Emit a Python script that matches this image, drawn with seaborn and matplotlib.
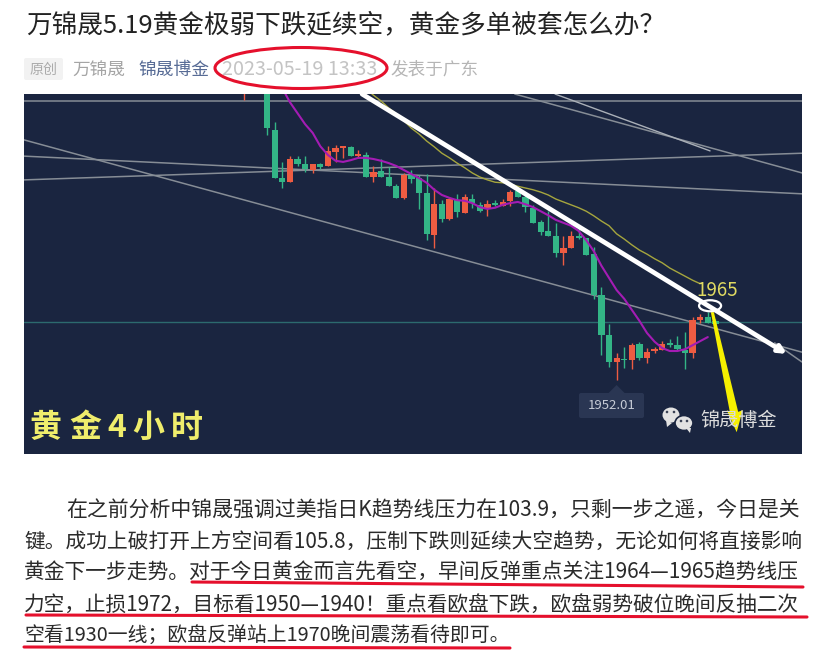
#!/usr/bin/env python3
# -*- coding: utf-8 -*-
import numpy as np
import pandas as pd
import seaborn as sns
import matplotlib.pyplot as plt
from matplotlib.patches import Ellipse, FancyBboxPatch, Polygon

sns.set_theme(style="white")
plt.rcParams['font.family'] = ['Noto Sans CJK SC', 'DejaVu Sans']

# 4 hour candles, first bar sits at index -3
opens = [2002.5, 2012.0, 2008.0, 2002.7, 1995.1, 1986.8, 1986.1, 1990.1, 1989.2, 1988.2, 1989.2, 1988.9, 1991.3,
         1992.0, 1992.2, 1990.6, 1990.8, 1987.0, 1988.0, 1987.0, 1985.4, 1983.4, 1987.3, 1986.8, 1984.2, 1977.0,
         1982.3, 1979.8, 1983.0, 1980.8, 1983.2, 1982.2, 1981.5, 1982.3, 1982.0, 1982.9, 1984.6, 1983.6, 1981.7,
         1979.2, 1977.7, 1976.8, 1973.9, 1974.8, 1976.8, 1976.5, 1973.7, 1966.7, 1959.8, 1955.1, 1955.6, 1955.4,
         1958.2, 1955.8, 1957.0, 1957.2, 1958.2, 1958.0, 1957.2, 1956.7, 1962.3, 1962.9, 1962.2]
highs = [2005.0, 2014.0, 2010.0, 2006.0, 1996.5, 1989.6, 1990.6, 1990.6, 1990.6, 1989.2, 1989.4, 1992.3, 1992.5,
         1992.3, 1992.3, 1991.7, 1991.3, 1988.9, 1990.1, 1988.7, 1985.8, 1987.7, 1988.2, 1987.3, 1987.5, 1985.1,
         1983.0, 1983.6, 1984.1, 1984.1, 1984.1, 1982.7, 1983.0, 1983.0, 1983.2, 1984.8, 1985.1, 1983.9, 1982.2,
         1979.6, 1981.1, 1979.1, 1976.8, 1977.7, 1978.4, 1976.5, 1974.9, 1968.0, 1961.7, 1956.7, 1957.7, 1958.4,
         1958.6, 1957.5, 1957.7, 1958.7, 1959.1, 1959.6, 1960.3, 1962.9, 1963.4, 1963.7, 1962.5]
lows = [2000.3, 2008.0, 2002.0, 1994.2, 1986.8, 1985.1, 1986.1, 1988.9, 1987.9, 1987.7, 1988.4, 1988.9, 1989.6,
        1990.3, 1990.6, 1990.3, 1987.0, 1986.1, 1987.0, 1985.4, 1983.4, 1983.2, 1986.0, 1981.5, 1976.1, 1974.8,
        1979.2, 1979.6, 1980.1, 1980.8, 1981.7, 1981.0, 1980.3, 1982.0, 1982.0, 1982.0, 1983.6, 1981.0, 1979.1,
        1977.0, 1976.8, 1973.2, 1971.8, 1974.8, 1976.3, 1973.6, 1966.0, 1956.3, 1954.2, 1952.01, 1954.1, 1953.9,
        1955.4, 1954.9, 1956.7, 1957.2, 1957.7, 1957.2, 1953.9, 1955.8, 1961.8, 1961.8, 1961.3]
closes = [2004.0, 2009.0, 2003.0, 1995.4, 1986.8, 1986.1, 1990.1, 1989.2, 1988.4, 1989.2, 1988.7, 1991.5, 1992.0,
          1992.2, 1990.6, 1990.8, 1987.0, 1987.9, 1987.0, 1985.4, 1983.4, 1987.3, 1986.7, 1984.2, 1977.2, 1982.3,
          1979.8, 1983.2, 1981.0, 1983.6, 1982.5, 1981.1, 1982.3, 1982.2, 1982.7, 1984.4, 1983.6, 1981.8, 1979.1,
          1977.5, 1976.8, 1973.9, 1974.8, 1976.8, 1976.5, 1973.6, 1966.7, 1959.8, 1955.1, 1955.8, 1955.4, 1958.0,
          1955.8, 1956.8, 1957.2, 1958.2, 1958.0, 1957.3, 1956.7, 1962.3, 1962.9, 1961.8, 1961.7]

# moving averages, read per bar
ma_fast_start = 2
ma_fast = [2002.3, 1999.9, 1998.0, 1996.1, 1994.6, 1992.3, 1990.8, 1989.8, 1989.6, 1989.9, 1990.3, 1990.3, 1990.1,
           1989.8, 1989.4, 1988.9, 1988.2, 1987.5, 1986.8, 1986.0, 1984.8, 1983.9, 1983.4, 1983.0, 1982.9, 1982.5,
           1981.8, 1981.5, 1981.7, 1982.2, 1982.5, 1982.7, 1982.3, 1981.8, 1981.1, 1980.4, 1979.6, 1979.1, 1978.6,
           1977.7, 1976.1, 1974.2, 1971.7, 1969.6, 1967.5, 1966.0, 1964.1, 1962.2, 1960.1, 1958.6, 1957.5, 1957.0,
           1957.0, 1957.3, 1958.0, 1958.7, 1959.4]
ma_slow_start = 13
ma_slow = [2002.2, 2001.1, 2000.1, 1998.9, 1997.9, 1996.7, 1995.4, 1994.4, 1993.2, 1992.2, 1991.1, 1990.3, 1989.4,
           1988.6, 1987.7, 1987.0, 1986.5, 1986.1, 1986.0, 1985.8, 1985.4, 1985.1, 1984.8, 1984.4, 1983.9, 1983.2,
           1982.7, 1982.2, 1981.7, 1981.1, 1980.3, 1979.4, 1978.6, 1977.2, 1976.3, 1975.3, 1974.4, 1973.7, 1972.9,
           1972.2, 1971.3, 1970.6, 1969.9, 1969.2, 1968.6]

# grey trend lines: (bar, price) at both ends
grey_lines = [((-32.0, 2000.1), (70.4, 2000.1)),
              ((-32.0, 1993.4), (70.4, 1956.8)),
              ((-32.0, 1990.6), (70.4, 1984.1)),
              ((-32.0, 1986.5), (70.4, 1991.1)),
              ((32.6, 2001.3), (70.4, 1987.7)),
              ((66.8, 1958.4), (70.4, 1955.1))]
thin_line = ((37.9, 2001.3), (58.3, 1991.5))
last_price = 1962.0
white_arrow = ((12.5, 2001.3), (68.4, 1956.5))
yellow_bars = [58.4, 58.8, 62.0, 62.6, 61.8, 60.5, 60.9]
yellow_prices = [1963.7, 1963.7, 1946.5, 1946.8, 1943.0, 1946.8, 1946.5]

title = "万锦晟5.19黄金极弱下跌延续空，黄金多单被套怎么办？"
body_lines = ["在之前分析中锦晟强调过美指日K趋势线压力在103.9，只剩一步之遥，今日是关",
              "键。成功上破打开上方空间看105.8，压制下跌则延续大空趋势，无论如何将直接影响",
              "黄金下一步走势。对于今日黄金而言先看空，早间反弹重点关注1964—1965趋势线压",
              "力空，止损1972，目标看1950—1940！重点看欧盘下跌，欧盘弱势破位晚间反抽二次",
              "空看1930一线；欧盘反弹站上1970晚间震荡看待即可。"]
body_left = [66, 24, 24, 24, 24]
body_right = [802, 802, 802, 802, 510]
body_y = [511, 542, 573, 605, 636]

BG = "#1a2540"
UP = "#ee5c42"
DOWN = "#33b586"
RED_INK = "#e5102c"

fig = plt.figure(figsize=(8.30, 6.54), dpi=100, facecolor="white")
ax = fig.add_axes([24 / 830, 1 - 454 / 654, 778 / 830, 360 / 654])
ax.set_facecolor(BG)
ax.set_xlim(-32.0, 70.4)
ax.set_ylim(1939.24, 2001.31)
ax.set_xticks([])
ax.set_yticks([])
sns.despine(ax=ax, left=True, bottom=True)

candles = pd.DataFrame({"open": opens, "high": highs, "low": lows, "close": closes})
candles["bar"] = np.arange(len(candles)) - 3
candles["color"] = np.where(candles.close > candles.open, UP, DOWN)

# trend lines go under the candles
ax.axhline(last_price, color="#2c6a6e", lw=1.0, zorder=1)
for (x0, y0), (x1, y1) in grey_lines:
    ax.plot([x0, x1], [y0, y1], color="#868d96", lw=1.1, zorder=1)
ax.plot([thin_line[0][0], thin_line[1][0]], [thin_line[0][1], thin_line[1][1]], color="#aab0b8", lw=1.0, zorder=1)

ax.vlines(candles.bar, candles.low, candles.high, colors=candles.color, lw=1.0, zorder=2)
bottoms = candles[["open", "close"]].min(axis=1)
heights = (candles.open - candles.close).abs().clip(lower=0.3)
ax.bar(candles.bar, heights, bottom=bottoms, width=0.82, color=candles.color, linewidth=0, zorder=2)

fast = pd.DataFrame({"bar": np.arange(len(ma_fast)) + ma_fast_start, "price": ma_fast})
slow = pd.DataFrame({"bar": np.arange(len(ma_slow)) + ma_slow_start, "price": ma_slow})
sns.lineplot(data=slow, x="bar", y="price", ax=ax, color="#a6a63e", lw=1.0, zorder=3, legend=False)
sns.lineplot(data=fast, x="bar", y="price", ax=ax, color="#a41cb4", lw=1.5, zorder=3, legend=False)
ax.set_xlabel("")
ax.set_ylabel("")

ax.add_patch(Polygon(np.column_stack([yellow_bars, yellow_prices]), closed=True, facecolor="#f6f000",
                     edgecolor="none", zorder=4))
ax.annotate("", xy=white_arrow[1], xytext=white_arrow[0], zorder=5, annotation_clip=False,
            arrowprops=dict(arrowstyle="-|>", color="white", lw=3.4, mutation_scale=11, shrinkA=0, shrinkB=0))
ax.add_patch(Ellipse((58.3, 1964.8), 2.9, 1.9, facecolor="none", edgecolor="white", lw=1.6, zorder=6))
ax.text(59.2, 1967.5, "1965", color="#e0da62", fontsize=13.5, ha="center", va="center", zorder=6)

# page layer in screen pixels
page = fig.add_axes([0, 0, 1, 1], zorder=5)
page.set_xlim(0, 830)
page.set_ylim(654, 0)
page.axis("off")
renderer = fig.canvas.get_renderer()


def fit_text(x0, x1, y, text, size, **kw):
    t = page.text(x0, y, text, fontsize=size, ha="left", va="center", **kw)
    w = t.get_window_extent(renderer).width
    t.set_fontsize(size * (x1 - x0) / w)
    return t


fit_text(26, 665, 25.5, title, 18, color="#222222")
page.add_patch(FancyBboxPatch((24, 58), 39, 22, boxstyle="round,pad=0,rounding_size=2", facecolor="#f2f2f2",
                              edgecolor="none"))
fit_text(30, 58, 69.5, "原创", 10, color="#ababab")
fit_text(72, 125, 69.5, "万锦晟", 12.5, color="#a5a5a5")
fit_text(138, 209, 69.5, "锦晟博金", 12.5, color="#576b95")
fit_text(222, 377, 69.5, "2023-05-19 13:33", 12.5, color="#c4c4c4")
fit_text(390, 478, 69.5, "发表于广东", 12.5, color="#b5b5b5")
page.add_patch(Ellipse((301, 68), 172, 41, facecolor="none", edgecolor=RED_INK, lw=2.2))

for line, x0, x1, y in zip(body_lines, body_left, body_right, body_y):
    fit_text(x0, x1, y, line, 15, color="#2a2a2a")
page.plot([192, 803], [582, 587], color=RED_INK, lw=2.2, solid_capstyle="round")
page.plot([26, 807], [615, 617], color=RED_INK, lw=2.2, solid_capstyle="round")
page.plot([24, 510], [647, 648], color=RED_INK, lw=2.2, solid_capstyle="round")

# caption, one glyph at a time because of the wide spacing
for ch, cx in zip("黄金4小时", [45, 85, 117, 148, 187]):
    page.text(cx, 428, ch, color="#efed6c", fontsize=23, fontweight="bold", ha="center", va="center")

# tooltip under the lowest bar
tip_x = 267 + 7.6 * candles.bar[candles.low.idxmin()]
page.add_patch(FancyBboxPatch((579, 393), 65, 25, boxstyle="round,pad=0,rounding_size=2", facecolor="#2a3653",
                              edgecolor="none"))
page.add_patch(Polygon([(tip_x - 8, 393), (tip_x, 385), (tip_x + 8, 393)], closed=True, facecolor="#2a3653",
                       edgecolor="none"))
page.text(611.5, 405.5, "1952.01", color="#c6cbd6", fontsize=9.5, ha="center", va="center")

# wechat logo and account name
page.add_patch(Ellipse((671, 415), 17, 15, facecolor="#e2e2e2", edgecolor="none"))
page.add_patch(Polygon([(666, 420), (672, 423), (667, 427)], closed=True, facecolor="#e2e2e2", edgecolor="none"))
page.add_patch(Ellipse((684, 423), 18, 15, facecolor="#e2e2e2", edgecolor=BG, lw=1.2))
page.add_patch(Polygon([(686, 428), (691, 428), (690, 433)], closed=True, facecolor="#e2e2e2", edgecolor="none"))
for ex, ey in [(667, 412), (674, 412), (681, 421), (687, 421)]:
    page.add_patch(Ellipse((ex, ey), 2.6, 2.6, facecolor="#3a4255", edgecolor="none"))
fit_text(700, 777, 420, "锦晟博金", 14, color="#dcdcdc")

fig.savefig("out.png", dpi=100)
